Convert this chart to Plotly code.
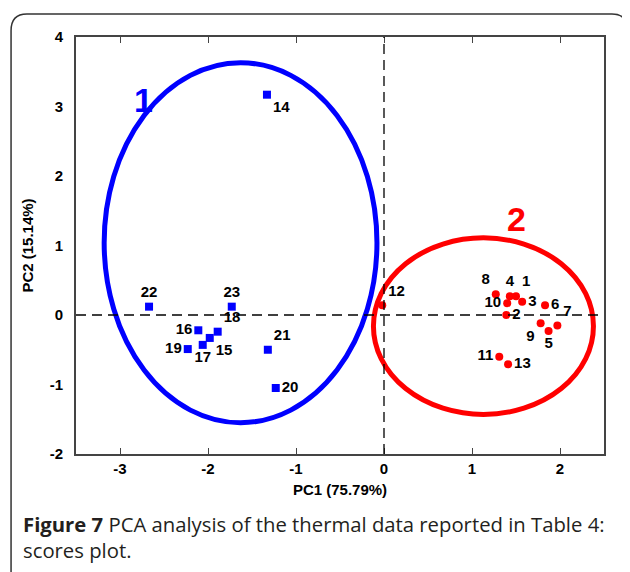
import plotly.graph_objects as go

# PCA scores
blue_ids = ["14", "22", "23", "16", "18", "15", "17", "19", "21", "20"]
blue_pc1 = [-1.33, -2.67, -1.73, -2.11, -1.89, -1.98, -2.06, -2.23, -1.32, -1.23]
blue_pc2 = [3.17, 0.12, 0.12, -0.22, -0.24, -0.33, -0.43, -0.49, -0.50, -1.05]

red_ids = ["8", "4", "1", "10", "3", "6", "2", "7", "9", "5", "11", "13", "12"]
red_pc1 = [1.27, 1.43, 1.50, 1.40, 1.57, 1.83, 1.39, 1.97, 1.78, 1.87, 1.31, 1.41, -0.02]
red_pc2 = [0.30, 0.27, 0.27, 0.17, 0.19, 0.14, 0.00, -0.15, -0.12, -0.23, -0.60, -0.71, 0.14]

# group ellipses: center x, center y, half-width, half-height
blue_ellipse = [-1.63, 1.04, 1.55, 2.59]
red_ellipse = [1.13, -0.16, 1.25, 1.27]

x_ticks = [-3, -2, -1, 0, 1, 2]
y_ticks = [-2, -1, 0, 1, 2, 3, 4]

blue_pos = ["bottom right", "top center", "top center", "middle left", "top right",
            "bottom right", "bottom center", "middle left", "top right", "middle right"]
red_pos = ["top left", "top center", "top right", "middle left", "middle right",
           "middle right", "middle right", "top right", "bottom left", "bottom center",
           "middle left", "middle right", "top right"]

narrow = "Liberation Sans Narrow, Arial Narrow, Liberation Sans"
lab_font = dict(family=narrow, size=15, color="black", weight="bold")

fig = go.Figure()

fig.add_trace(go.Scatter(
    x=blue_pc1, y=blue_pc2, text=blue_ids,
    mode="markers+text", textposition=blue_pos, textfont=lab_font,
    marker=dict(symbol="square", size=8, color="#0000ff"), showlegend=False))
fig.add_trace(go.Scatter(
    x=red_pc1, y=red_pc2, text=red_ids,
    mode="markers+text", textposition=red_pos, textfont=lab_font,
    marker=dict(symbol="circle", size=8, color="#ff0000"), showlegend=False))

for (cx, cy, a, b), col in [(blue_ellipse, "#0000ff"), (red_ellipse, "#ff0000")]:
    fig.add_shape(type="circle", xref="x", yref="y", x0=cx - a, x1=cx + a,
                  y0=cy - b, y1=cy + b, line=dict(color=col, width=5))

# dashed zero lines
fig.add_shape(type="line", xref="x", yref="paper", x0=0, x1=0, y0=0, y1=1,
              line=dict(color="black", width=1.3, dash="10px,6px"))
fig.add_shape(type="line", xref="paper", yref="y", x0=0, x1=1, y0=0, y1=0,
              line=dict(color="black", width=1.3, dash="10px,6px"))

# rounded outer frame (paper coords)
L, R, T, B = -0.123, 1.045, 1.055, -0.4
rx, ry = 0.03, 0.04
fig.add_shape(type="path", xref="paper", yref="paper",
              path=f"M {L},{B} L {L},{T-ry} Q {L},{T} {L+rx},{T} L {R-rx},{T} Q {R},{T} {R},{T-ry} L {R},{B}",
              line=dict(color="#333333", width=1.5))

fig.add_annotation(x=-2.73, y=3.1, xref="x", yref="y", text="1", showarrow=False,
                   font=dict(family="Liberation Sans, Arial", size=34, color="#0000ff", weight="bold"))
fig.add_annotation(x=1.51, y=1.38, xref="x", yref="y", text="2", showarrow=False,
                   font=dict(family="Liberation Sans, Arial", size=34, color="#ff0000", weight="bold"))

fig.add_annotation(x=-0.104, y=-0.13, xref="paper", yref="paper", xanchor="left", yanchor="top",
                   align="left", showarrow=False,
                   text="<b>Figure 7</b> PCA analysis of the thermal data reported in Table 4:<br>scores plot.",
                   font=dict(family="Open Sans, Noto Sans", size=20.3, color="#231f20"))

axis_font = dict(family=narrow, size=15, color="black", weight="bold")
fig.update_xaxes(range=[-3.5, 2.5], tickvals=x_ticks, ticktext=[str(v) for v in x_ticks],
                 ticks="inside", ticklen=6, mirror="ticks",
                 showline=True, linecolor="#444444", linewidth=2, showgrid=False, zeroline=False,
                 tickfont=axis_font, title=dict(text="PC1 (75.79%)", font=axis_font, standoff=8))
fig.update_yaxes(range=[-2, 4], tickvals=y_ticks, ticktext=[str(v) for v in y_ticks],
                 ticks="", mirror=True,
                 showline=True, linecolor="#444444", linewidth=2, showgrid=False, zeroline=False,
                 tickfont=axis_font, ticklabelstandoff=8,
                 title=dict(text="PC2 (15.14%)", font=axis_font, standoff=12))
# page body adds an 8px offset, so the figure is 8px smaller on each axis
fig.update_layout(width=622, height=564, margin=dict(l=68, r=26, t=29, b=118),
                  plot_bgcolor="white", paper_bgcolor="white")

fig.write_html("out.html")
